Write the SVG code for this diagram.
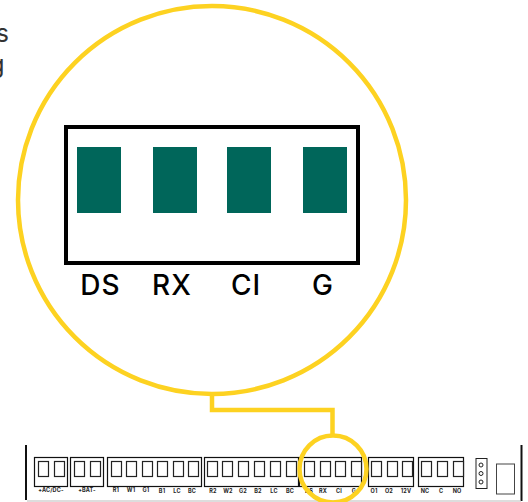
<svg xmlns="http://www.w3.org/2000/svg" width="528" height="502" viewBox="0 0 528 502">
<style>
.y{fill:none;stroke:#fdd221;stroke-width:4.500}
.b{fill:none;stroke:#111;stroke-width:1.200}
.t{fill:#fff;stroke:#222;stroke-width:1.200}
.g{fill:#00665a}
.big{font:500 28px Inter,"Liberation Sans",sans-serif;letter-spacing:1px;fill:#000;text-anchor:middle}
.sm{font:700 5.500px Inter,"Liberation Sans",sans-serif;letter-spacing:.15px;fill:#222;text-anchor:middle}
.bg{font:400 25px Inter,"Liberation Sans",sans-serif;fill:#333;text-anchor:end}
</style>
<rect width="528" height="502" fill="#fff"/>
<g id="cropped-text">
<text class="bg" x="9" y="42">s</text>
<text class="bg" x="4.500" y="73">g</text>
</g>
<g id="board">
<path d="M26 445V500" stroke="#111" stroke-width="2" fill="none"/>
<path d="M521.500 445V501" stroke="#111" stroke-width="2" fill="none"/>
<path d="M27 501H521" stroke="#bbb" stroke-width="1" fill="none"/>
<rect class="b" x="34.500" y="457.500" width="33" height="29"/>
<rect class="b" x="70.500" y="457.500" width="33" height="29"/>
<rect class="b" x="107.500" y="457.500" width="94" height="29"/>
<rect class="b" x="204.500" y="457.500" width="94" height="29"/>
<rect class="b" x="299.500" y="457.500" width="62" height="29"/>
<rect class="b" x="368.500" y="457.500" width="45" height="29"/>
<rect class="b" x="418.500" y="457.500" width="45" height="29"/>
<g id="terminals">
<rect class="t" x="38.500" y="461.500" width="10" height="15"/><rect class="t" x="54.500" y="461.500" width="10" height="15"/>
<rect class="t" x="74.500" y="461.500" width="10" height="15"/><rect class="t" x="90.500" y="461.500" width="10" height="15"/>
<rect class="t" x="111.500" y="461.500" width="10" height="15"/><rect class="t" x="126.500" y="461.500" width="10" height="15"/><rect class="t" x="142.500" y="461.500" width="10" height="15"/><rect class="t" x="157.500" y="461.500" width="10" height="15"/><rect class="t" x="173.500" y="461.500" width="10" height="15"/><rect class="t" x="188.500" y="461.500" width="10" height="15"/>
<rect class="t" x="207.500" y="461.500" width="10" height="15"/><rect class="t" x="222.500" y="461.500" width="10" height="15"/><rect class="t" x="238.500" y="461.500" width="10" height="15"/><rect class="t" x="254.500" y="461.500" width="10" height="15"/><rect class="t" x="270.500" y="461.500" width="10" height="15"/><rect class="t" x="286.500" y="461.500" width="10" height="15"/>
<rect class="t" x="304.500" y="461.500" width="10" height="15"/><rect class="t" x="320.500" y="461.500" width="10" height="15"/><rect class="t" x="335.500" y="461.500" width="10" height="15"/><rect class="t" x="351.500" y="461.500" width="10" height="15"/>
<rect class="t" x="371.500" y="461.500" width="10" height="15"/><rect class="t" x="387.500" y="461.500" width="10" height="15"/><rect class="t" x="402.500" y="461.500" width="10" height="15"/>
<rect class="t" x="421.500" y="461.500" width="10" height="15"/><rect class="t" x="437.500" y="461.500" width="10" height="15"/><rect class="t" x="453.500" y="461.500" width="10" height="15"/>
</g>
<g id="board-labels">
<text class="sm" x="51" y="492">+AC/DC-</text><text class="sm" x="87" y="492">+BAT-</text>
<text class="sm" x="116" y="492">R1</text><text class="sm" x="131" y="492">W1</text><text class="sm" x="146" y="492">G1</text><text class="sm" x="162" y="493">B1</text><text class="sm" x="177" y="493">LC</text><text class="sm" x="192" y="493">BC</text>
<text class="sm" x="213" y="493">R2</text><text class="sm" x="228" y="493">W2</text><text class="sm" x="243" y="493">G2</text><text class="sm" x="258" y="493">B2</text><text class="sm" x="274" y="493">LC</text><text class="sm" x="290" y="493">BC</text>
<text class="sm" x="309" y="493">DS</text><text class="sm" x="323" y="493">RX</text><text class="sm" x="339" y="493">CI</text><text class="sm" x="354" y="493">G</text>
<text class="sm" x="374" y="493">O1</text><text class="sm" x="389" y="493">O2</text><text class="sm" x="406" y="493">12V</text>
<text class="sm" x="425" y="493">NC</text><text class="sm" x="441" y="493">C</text><text class="sm" x="457" y="493">NO</text>
</g>
<g id="header">
<rect x="476" y="458.500" width="11" height="30" fill="#fff" stroke="#222" stroke-width="1"/>
<circle cx="481" cy="465" r="2" fill="#fff" stroke="#222"/><circle cx="481" cy="473.500" r="2" fill="#fff" stroke="#222"/><circle cx="481" cy="482" r="2" fill="#fff" stroke="#222"/>
</g>
<rect id="module" x="496.500" y="464" width="18" height="30" fill="#fff" stroke="#444" stroke-width="1"/>
</g>
<g id="connectors">
<path class="y" d="M212 394V410H332.500V435"/>
</g>
<g id="zoom-ring">
<circle class="y" cx="212" cy="200" r="194"/>
</g>
<circle id="small-ring" class="y" cx="333" cy="469" r="33.500"/>
<g id="zoom-panel">
<rect x="66" y="127" width="292" height="136" fill="none" stroke="#000" stroke-width="4"/>
</g>
<g id="DS"><rect class="g" x="77" y="147" width="44" height="66"/><text class="big" x="100.500" y="295">DS</text></g>
<g id="RX"><rect class="g" x="153" y="147" width="44" height="66"/><text class="big" x="172" y="295">RX</text></g>
<g id="CI"><rect class="g" x="227" y="147" width="44" height="66"/><text class="big" x="246" y="295">CI</text></g>
<g id="G"><rect class="g" x="303" y="147" width="44" height="66"/><text class="big" x="323" y="295">G</text></g>
</svg>
